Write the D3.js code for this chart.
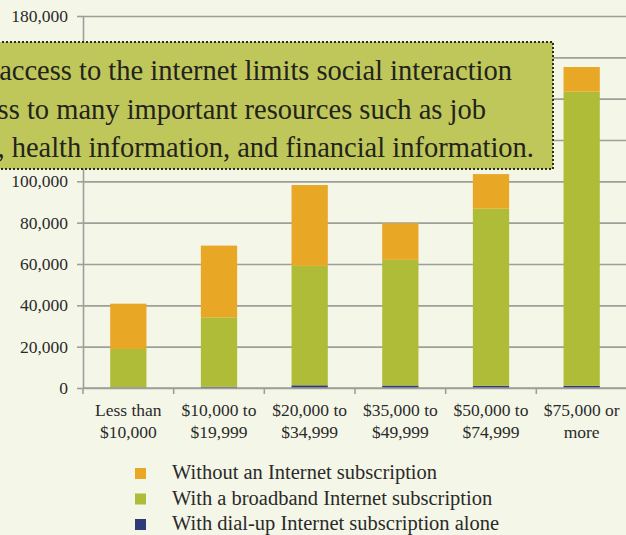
<!DOCTYPE html>
<html>
<head>
<meta charset="utf-8">
<script src="https://cdn.jsdelivr.net/npm/d3@7/dist/d3.min.js"></script>
<style>
  body { margin: 0; background: #f4f6e7; overflow: hidden; }
  svg { display: block; font-family: "Liberation Serif", "DejaVu Serif", serif; }
</style>
</head>
<body>
<svg id="chart" width="626" height="535"></svg>
<script>
var categories = ["Less than|$10,000", "$10,000 to|$19,999", "$20,000 to|$34,999",
  "$35,000 to|$49,999", "$50,000 to|$74,999", "$75,000 or|more"];
var dialup = [200, 600, 1300, 1200, 1100, 1100];
var broadband = [18700, 33600, 57800, 60800, 85700, 142300];
var without = [21900, 34700, 39100, 17700, 16700, 11900];
var yTicks = [0, 20000, 40000, 60000, 80000, 100000, 120000, 140000, 160000, 180000];
var seriesNames = ["With dial-up Internet subscription alone",
  "With a broadband Internet subscription",
  "Without an Internet subscription"];
var seriesColors = ["#2f3b77", "#afbc37", "#e8a724"];
var noteLines = ["Lack of access to the internet limits social interaction",
  "and access to many important resources such as job",
  "listings, health information, and financial information."];

var svg = d3.select("#chart");
var plotLeft = 83, plotRight = 627, plotTop = 16, plotBottom = 388;

var rows = categories.map(function(c, i) {
  return {cat: c, d0: dialup[i], d1: broadband[i], d2: without[i]};
});

var x = d3.scaleBand()
  .domain(categories)
  .range([plotLeft, plotRight])
  .paddingInner(0.6)
  .paddingOuter(0.3);

var y = d3.scaleLinear()
  .domain([0, 180000])
  .range([plotBottom, plotTop]);

// grid lines
svg.append("g")
  .attr("transform", "translate(" + plotLeft + ",0)")
  .call(d3.axisLeft(y).tickValues(yTicks).tickSize(-(plotRight - plotLeft)).tickFormat(""))
  .call(function(g) { g.select(".domain").remove(); })
  .selectAll("line")
  .attr("stroke", "#9f9f9a")
  .attr("stroke-width", 1.6);

// y axis
var yAxis = svg.append("g")
  .attr("transform", "translate(" + plotLeft + ",0)")
  .call(d3.axisLeft(y).tickValues(yTicks).tickSize(6).tickPadding(9).tickSizeOuter(0)
    .tickFormat(d3.format(",")));
yAxis.select(".domain").attr("stroke", "#9f9f9a").attr("stroke-width", 1.6);
yAxis.selectAll("line").attr("stroke", "#9f9f9a").attr("stroke-width", 1.6);
yAxis.selectAll("text")
  .attr("fill", "#2a2a2a")
  .style("font-size", "17.5px")
  .style("font-family", "'Liberation Serif', serif");

// stacked bars
var stack = d3.stack().keys(["d0", "d1", "d2"]);
var layers = stack(rows);

svg.append("g").selectAll("g")
  .data(layers)
  .enter().append("g")
  .attr("fill", function(d, i) { return seriesColors[i]; })
  .selectAll("rect")
  .data(function(d) { return d; })
  .enter().append("rect")
  .attr("x", function(d) { return x(d.data.cat); })
  .attr("width", x.bandwidth())
  .attr("y", function(d) { return y(d[1]); })
  .attr("height", function(d) { return y(d[0]) - y(d[1]); });

// x axis line and ticks
var gap = (x.step() - x.bandwidth()) / 2;
svg.append("line")
  .attr("x1", plotLeft).attr("x2", plotRight)
  .attr("y1", plotBottom).attr("y2", plotBottom)
  .attr("stroke", "#9f9f9a").attr("stroke-width", 1.6);

var tickPos = categories.map(function(c) { return x(c) - gap; });
tickPos.push(x(categories[categories.length - 1]) + x.bandwidth() + gap);
svg.append("g").selectAll("line")
  .data(tickPos)
  .enter().append("line")
  .attr("x1", function(d) { return d; })
  .attr("x2", function(d) { return d; })
  .attr("y1", plotBottom)
  .attr("y2", plotBottom + 6)
  .attr("stroke", "#9f9f9a").attr("stroke-width", 1.6);

// category labels
var catLabels = svg.append("g").selectAll("text")
  .data(categories)
  .enter().append("text")
  .attr("text-anchor", "middle")
  .attr("fill", "#2a2a2a")
  .style("font-size", "17.5px");
catLabels.each(function(c) {
  var parts = c.split("|");
  var cx = x(c) + x.bandwidth() / 2;
  d3.select(this).selectAll("tspan")
    .data(parts)
    .enter().append("tspan")
    .attr("x", cx)
    .attr("y", function(d, i) { return 416 + i * 22; })
    .text(function(d) { return d; });
});

// legend
var legend = svg.append("g").selectAll("g")
  .data([2, 1, 0])
  .enter().append("g")
  .attr("transform", function(d, i) { return "translate(135," + (468 + i * 25.5) + ")"; });
legend.append("rect")
  .attr("width", 11).attr("height", 11)
  .attr("fill", function(d) { return seriesColors[d]; });
legend.append("text")
  .attr("x", 37)
  .attr("y", 11)
  .attr("fill", "#2a2a2a")
  .style("font-size", "20.5px")
  .text(function(d) { return seriesNames[d]; });

// annotation box
svg.append("rect")
  .attr("x", -6).attr("y", 42)
  .attr("width", 559).attr("height", 127)
  .attr("fill", "#bfc75b")
  .attr("stroke", "#2b2b22")
  .attr("stroke-width", 2)
  .attr("stroke-dasharray", "2,2");

var noteEnds = [512, 486, 534];
svg.append("g").selectAll("text")
  .data(noteLines)
  .enter().append("text")
  .attr("x", function(d, i) { return noteEnds[i]; })
  .attr("y", function(d, i) { return 80 + i * 38.5; })
  .attr("text-anchor", "end")
  .attr("fill", "#23231c")
  .style("font-size", "28.5px")
  .text(function(d) { return d; });
</script>
</body>
</html>
